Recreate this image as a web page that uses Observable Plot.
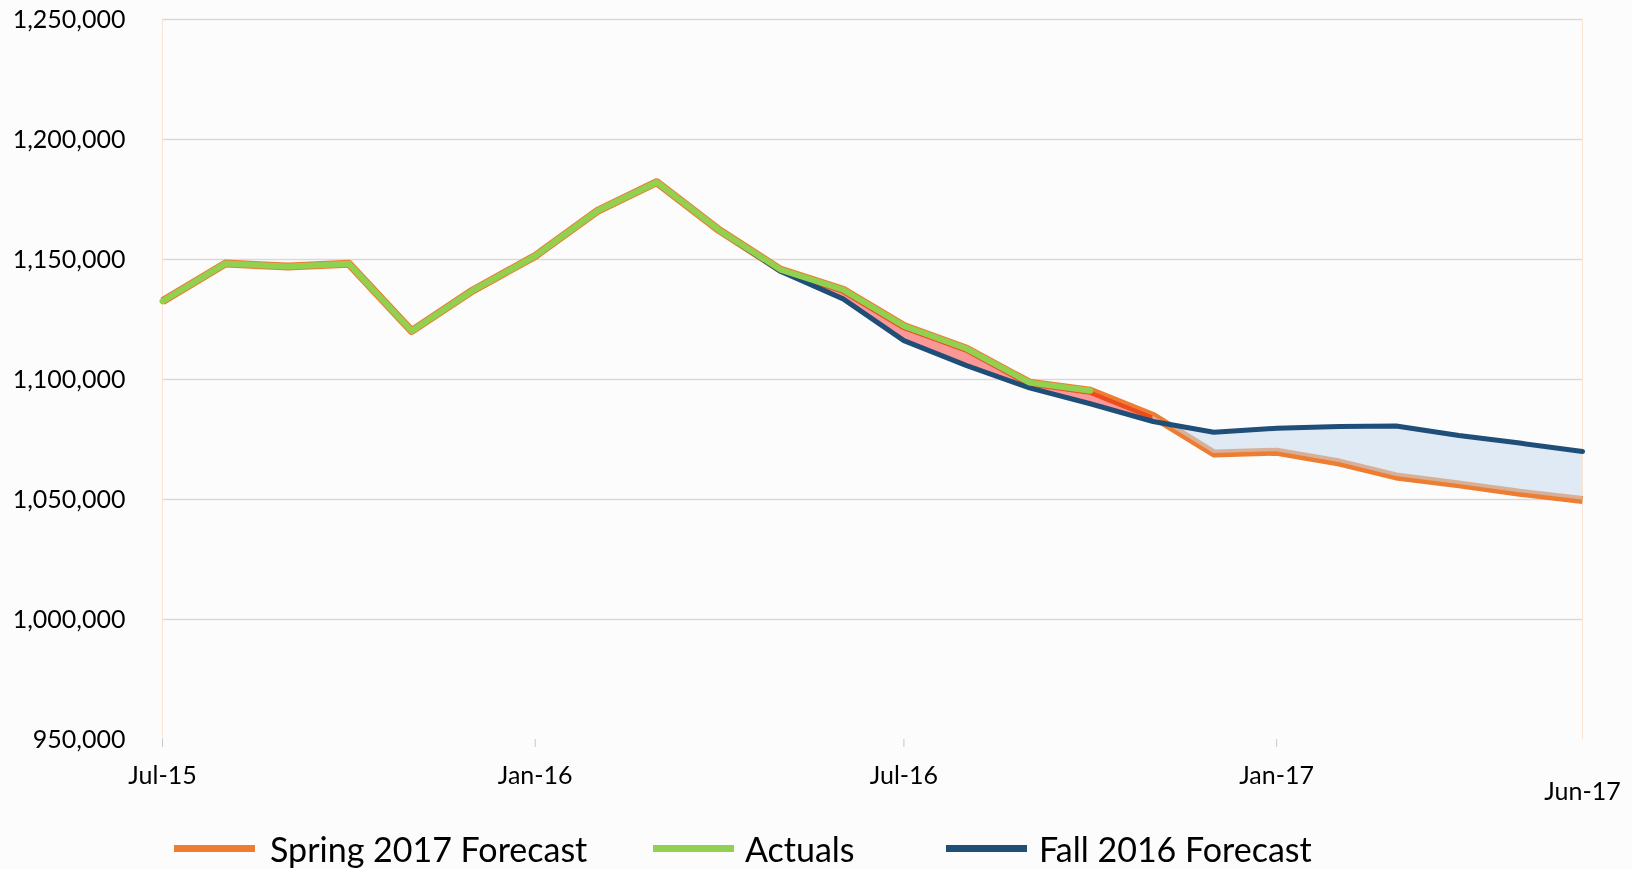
<!DOCTYPE html>
<html>
<head>
<meta charset="utf-8">
<script src="https://cdn.jsdelivr.net/npm/d3@7"></script>
<script src="https://cdn.jsdelivr.net/npm/@observablehq/plot@0.6"></script>
<style>
  html, body { margin: 0; padding: 0; background: #fcfcfc; }
  #wrap { position: relative; width: 1632px; height: 869px; font-family: Lato, "Open Sans", sans-serif; color: #000; }
  .sw { position: absolute; width: 81px; height: 7px; top: 845px; }
  .lt { position: absolute; font-size: 34px; line-height: 34px; top: 832px; white-space: nowrap; }
</style>
</head>
<body>
<div id="wrap"></div>
<script>
// Month labels (x axis categories)
const months = [
  "2015-07-01","2015-08-01","2015-09-01","2015-10-01","2015-11-01","2015-12-01",
  "2016-01-01","2016-02-01","2016-03-01","2016-04-01","2016-05-01","2016-06-01",
  "2016-07-01","2016-08-01","2016-09-01","2016-10-01","2016-11-01","2016-12-01",
  "2017-01-01","2017-02-01","2017-03-01","2017-04-01","2017-05-01","2017-06-01"
];
// Actuals (Jul-15 .. Oct-16)
const actuals = [
  1132600, 1148300, 1147100, 1148200, 1120200, 1137000,
  1151500, 1170400, 1182200, 1162100, 1145800, 1137400,
  1122300, 1112800, 1098700, 1095300
];
// Spring 2017 Forecast
const spring2017 = [
  1132600, 1148300, 1147100, 1148200, 1120200, 1137000,
  1151500, 1170400, 1182200, 1162100, 1145800, 1137400,
  1122300, 1112800, 1098700, 1095300, 1084800, 1069200,
  1069900, 1065400, 1059600, 1056300, 1052800, 1049800
];
// Fall 2016 Forecast
const fall2016 = [
  null, null, null, null, null, null,
  null, null, null, 1162100, 1145100, 1133600,
  1116200, 1105800, 1096500, 1089900, 1082500, 1078000,
  1079700, 1080400, 1080600, 1076700, 1073500, 1070000
];
const yTicks = [950000, 1000000, 1050000, 1100000, 1150000, 1200000, 1250000];
const xTicks = ["2015-07-01", "2016-01-01", "2016-07-01", "2017-01-01"];
const xEndTick = ["2017-06-01"];
const seriesNames = ["Spring 2017 Forecast", "Actuals", "Fall 2016 Forecast"];
const seriesColors = ["#ed7d31", "#92d050", "#1f4e79"];

const rows = months.map((m, i) => ({
  date: new Date(m),
  actual: actuals[i] ?? null,
  spring: spring2017[i],
  fall: fall2016[i]
}));
const withFall = rows.filter(r => r.fall != null);
let cross = -1;
withFall.forEach((r, i) => { if (r.spring >= r.fall) cross = i; });
const pinkRows = withFall.slice(0, cross + 1);
const blueRows = withFall.slice(cross);

const W = 1632, H = 812;
const chart = Plot.plot({
  width: W,
  height: H,
  marginLeft: 162,
  marginRight: 50,
  marginTop: 19,
  marginBottom: H - 739,
  style: { background: "transparent", fontFamily: "Lato, 'Open Sans', sans-serif", fontSize: "25px", color: "#000" },
  x: { type: "utc", domain: [new Date(months[0]), new Date(months[months.length - 1])] },
  y: { domain: [950000, 1250000] },
  marks: [
    Plot.ruleY(yTicks.filter(v => v > 950000), { stroke: "#d9d9d9", strokeWidth: 1.5 }),
    Plot.ruleX([new Date(months[0]), new Date(months[months.length - 1])], { stroke: "#fbe3d2", strokeWidth: 1 }),
    Plot.axisY({ ticks: yTicks, tickFormat: d3.format(","), tickSize: 0, tickPadding: 37, fontSize: 25, fill: "#000" }),
    Plot.axisX({ ticks: xTicks.map(d => new Date(d)), tickFormat: d3.utcFormat("%b-%y"), tickSize: 8, tickPadding: 19, stroke: "#c8c8c8", fill: "#000", fontSize: 25 }),
    Plot.axisX({ ticks: xEndTick.map(d => new Date(d)), tickFormat: d3.utcFormat("%b-%y"), tickSize: 0, tickPadding: 43, fill: "#000", fontSize: 25 }),
    Plot.lineY(rows, { x: "date", y: "spring", stroke: seriesColors[0], strokeWidth: 8, strokeLinejoin: "round", strokeLinecap: "butt" }),
    Plot.areaY(pinkRows, { x: "date", y1: "fall", y2: "spring", fill: "#ff9999", mixBlendMode: "multiply" }),
    Plot.areaY(blueRows, { x: "date", y1: "spring", y2: "fall", fill: "rgb(199,219,239)", fillOpacity: 0.55 }),
    Plot.lineY(withFall, { x: "date", y: "fall", stroke: seriesColors[2], strokeWidth: 5, strokeLinejoin: "round" }),
    Plot.lineY(rows.filter(r => r.actual != null), { x: "date", y: "actual", stroke: seriesColors[1], strokeWidth: 6, strokeLinejoin: "round", strokeLinecap: "round" })
  ]
});
const wrap = document.getElementById("wrap");
wrap.appendChild(chart);

const swLeft = [174, 653, 946];
const txLeft = [270, 745, 1039];
seriesNames.forEach((name, i) => {
  const s = document.createElement("div");
  s.className = "sw";
  s.style.left = swLeft[i] + "px";
  s.style.background = seriesColors[i];
  wrap.appendChild(s);
  const t = document.createElement("div");
  t.className = "lt";
  t.style.left = txLeft[i] + "px";
  t.textContent = name;
  wrap.appendChild(t);
});
</script>
</body>
</html>
